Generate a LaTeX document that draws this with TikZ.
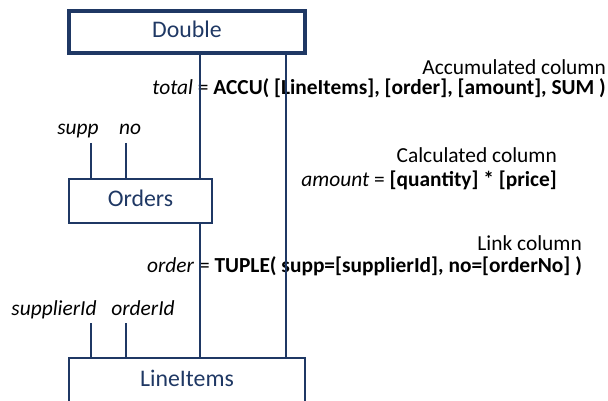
\documentclass[tikz,border=0pt]{standalone}
\usepackage{fontspec}
\setmainfont{Carlito}
\definecolor{dblue}{HTML}{1F3864}
\begin{document}
\begin{tikzpicture}[x=1pt,y=-1pt,
  tbl/.style={draw=dblue,text=dblue,inner sep=0pt,font=\fontsize{23.8}{28}\selectfont,
    text height=15pt,text depth=3.5pt},
  conn/.style={draw=dblue,line width=2pt},
  lbl/.style={inner sep=0pt,font=\fontsize{21.4}{25}\selectfont},
]
\useasboundingbox (0,0) rectangle (608,401);
% tables
\node[tbl,line width=4pt,minimum width=236pt,minimum height=42pt] (double) at (187,32) {Double};
\node[tbl,line width=2pt,minimum width=143pt,minimum height=44pt] (orders) at (140.5,201) {Orders};
\node[tbl,line width=2pt,minimum width=236pt,minimum height=44.5pt] (items) at (187,380.25) {LineItems};
% texts
\node[lbl,anchor=base east] (acct) at (606,75) {Accumulated column};
\node[lbl,anchor=base east] (accf) at (606,95) {\textit{total} = \textbf{ACCU( [LineItems], [order], [amount], SUM )}};
\node[lbl,anchor=base east] (calct) at (557,163) {Calculated column};
\node[lbl,anchor=base east] (calcf) at (557,186) {\textit{amount} = \textbf{[quantity] * [price]}};
\node[lbl,anchor=base east] (linkt) at (582,250) {Link column};
\node[lbl,anchor=base east] (linkf) at (582,272) {\textit{order} = \textbf{TUPLE( supp=[supplierId], no=[orderNo] )}};
\node[lbl,anchor=base] (supp) at (78,135) {\textit{supp}};
\node[lbl,anchor=base] (no) at (130,135) {\textit{no}};
\node[lbl,anchor=base] (suppid) at (54,315) {\textit{supplierId}};
\node[lbl,anchor=base] (ordid) at (143,315) {\textit{orderId}};
% connector columns
\coordinate (ca) at (200,0);
\coordinate (cb) at (286,0);
\coordinate (s1) at (91,143);
\coordinate (s2) at (126,143);
\coordinate (t1) at (91,323);
\coordinate (t2) at (126,323);
\draw[conn] (double.south -| ca) -- (orders.north -| ca);
\draw[conn] (double.south -| cb) -- (items.north -| cb);
\draw[conn] (orders.south -| ca) -- (items.north -| ca);
\draw[conn] (s1) -- (orders.north -| s1);
\draw[conn] (s2) -- (orders.north -| s2);
\draw[conn] (t1) -- (items.north -| t1);
\draw[conn] (t2) -- (items.north -| t2);
\end{tikzpicture}
\end{document}
